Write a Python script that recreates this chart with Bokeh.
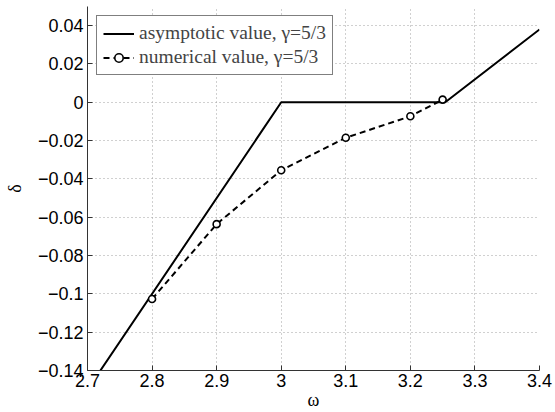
from bokeh.plotting import figure
from bokeh.models import Range1d, FixedTicker, CustomJSTickFormatter, Legend, LegendItem
from bokeh.embed import file_html
from bokeh.resources import INLINE

# asymptotic value (piecewise)
asym_x = [2.7, 3.0, 3.254, 3.4]
asym_y = [-0.15, 0.0, 0.0, 0.038]

# numerical value
num_x = [2.8, 2.9, 3.0, 3.1, 3.2, 3.25]
num_y = [-0.1027, -0.0636, -0.0355, -0.0185, -0.0073, 0.0014]

x_ticks = [2.7, 2.8, 2.9, 3.0, 3.1, 3.2, 3.3, 3.4]
y_ticks = [-0.14, -0.12, -0.1, -0.08, -0.06, -0.04, -0.02, 0.0, 0.02, 0.04]

p = figure(width=555, height=412, output_backend="svg", toolbar_location=None,
           x_range=Range1d(2.7, 3.4), y_range=Range1d(-0.14, 0.05),
           min_border_left=87, min_border_right=16, min_border_top=6, min_border_bottom=41)
p.outline_line_color = None
p.background_fill_color = "white"
p.border_fill_color = "white"

r1 = p.line(asym_x, asym_y, line_color="black", line_width=2)
r2 = p.line(num_x, num_y, line_color="black", line_width=2, line_dash="6 4")
r3 = p.scatter(num_x, num_y, marker="circle", size=7, fill_color="white",
               line_color="black", line_width=1.6)

for ax in (p.xaxis[0], p.yaxis[0]):
    ax.major_tick_in = 5
    ax.major_tick_out = 0
    ax.minor_tick_in = 0
    ax.minor_tick_out = 0
    ax.axis_line_color = "#333333"
    ax.major_tick_line_color = "#333333"
    ax.major_label_text_font = "Liberation Sans"
    ax.major_label_text_font_size = "18px"
    ax.major_label_text_color = "black"
    ax.axis_label_text_font = "Liberation Serif"
    ax.axis_label_text_font_style = "normal"
    ax.axis_label_text_font_size = "18px"
    ax.axis_label_text_color = "black"

p.xaxis.ticker = FixedTicker(ticks=x_ticks)
p.yaxis.ticker = FixedTicker(ticks=y_ticks)
p.xaxis.formatter = CustomJSTickFormatter(code="""
var s = tick.toFixed(1).replace(/\\.0$/, '');
return s;
""")
p.yaxis.formatter = CustomJSTickFormatter(code="""
if (Math.abs(tick) < 1e-9) { return "0"; }
var s = tick.toFixed(2).replace(/0+$/, '');
return s.replace('-', '\u2212');
""")
p.xaxis.axis_label = "ω"
p.yaxis.axis_label = "δ"
p.xaxis.major_label_standoff = 3
p.xaxis.axis_label_standoff = 0
p.yaxis.major_label_standoff = 4
p.yaxis.axis_label_standoff = 10

p.xgrid.grid_line_color = "#a0a0a0"
p.ygrid.grid_line_color = "#a0a0a0"
p.xgrid.grid_line_dash = "1 3"
p.ygrid.grid_line_dash = "1 3"
p.xgrid.grid_line_width = 1
p.ygrid.grid_line_width = 1

legend = Legend(items=[
    LegendItem(label="asymptotic value, γ=5/3", renderers=[r1]),
    LegendItem(label="numerical value, γ=5/3", renderers=[r2, r3]),
], location="top_left")
legend.margin = 9
legend.padding = 6
legend.spacing = 2
legend.glyph_width = 31
legend.glyph_height = 21
legend.label_height = 21
legend.label_standoff = 5
legend.label_text_font = "Liberation Serif"
legend.label_text_font_size = "19.5px"
legend.border_line_color = "black"
legend.border_line_width = 1
legend.background_fill_color = "white"
legend.background_fill_alpha = 1
p.add_layout(legend)

open("out.html", "w").write(file_html(p, INLINE))
